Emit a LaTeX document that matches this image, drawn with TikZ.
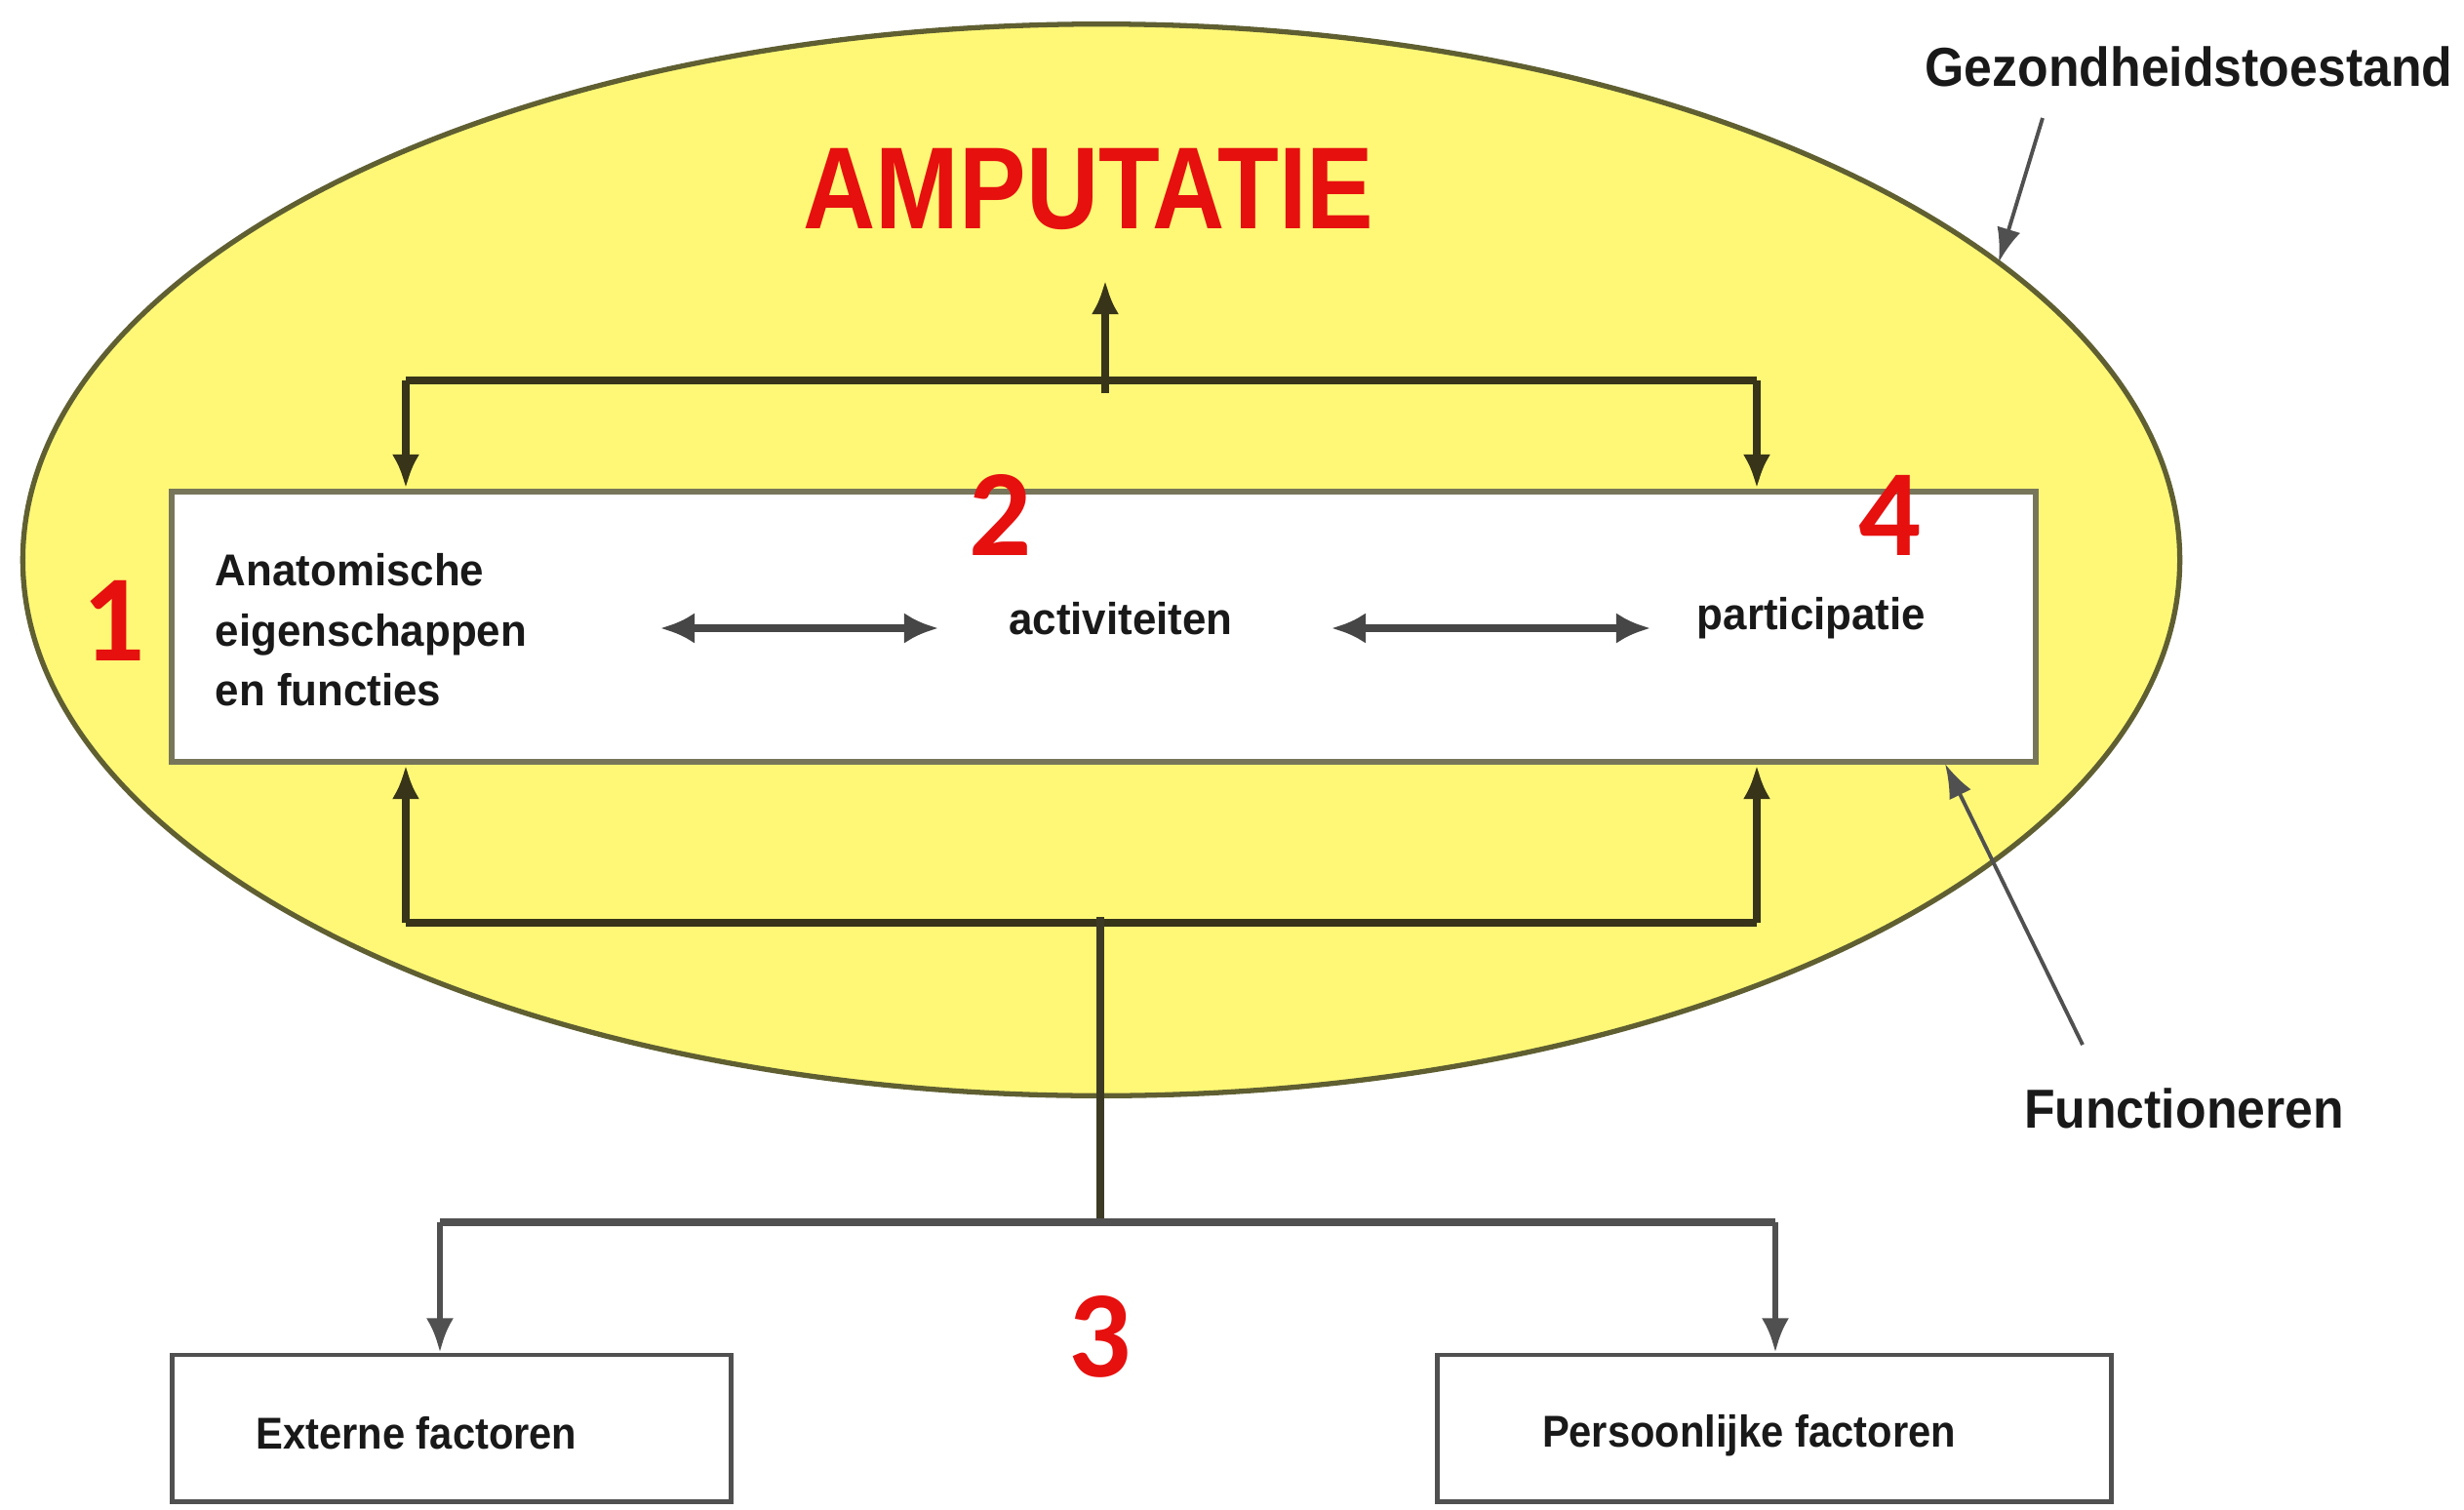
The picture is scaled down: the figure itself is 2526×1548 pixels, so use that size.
\documentclass[tikz,border=0pt]{standalone}
\usepackage{fontspec}
\setmainfont{Liberation Sans}
\newfontfamily\digitfont{Carlito}
\usetikzlibrary{shapes.geometric,arrows.meta}
\definecolor{ellfill}{RGB}{255,248,118}
\definecolor{ellline}{RGB}{95,95,50}
\definecolor{conn}{RGB}{55,52,25}
\definecolor{boxline}{RGB}{120,118,90}
\definecolor{lowline}{RGB}{80,80,80}
\definecolor{redtxt}{RGB}{230,16,14}
\definecolor{dbl}{RGB}{70,70,70}
\tikzset{
  connline/.style={draw=conn, line width=2.1pt},
  connarr/.style={connline, -{Latex[length=10pt,width=8pt]}},
  dblarr/.style={draw=dbl, line width=2.2pt, {Latex[length=10pt,width=9pt]}-{Latex[length=10pt,width=9pt]}},
  callout/.style={draw=lowline, line width=1.1pt, -{Latex[length=10pt,width=7pt]}},
  lowarr/.style={draw=lowline, line width=1.8pt, -{Latex[length=10pt,width=8pt]}},
  lowline/.style={draw=lowline, line width=2.3pt},
  num/.style={text=redtxt, font=\digitfont\bfseries\fontsize{36}{40}\selectfont, inner sep=0pt},
  boxtxt/.style={font=\bfseries\fontsize{13}{17.5}\selectfont, inner sep=0pt, text=black!90, xscale=0.96},
  labtxt/.style={font=\bfseries\fontsize{16}{19}\selectfont, inner sep=0pt, xscale=0.92, text=black!90},
  lowbox/.style={draw=lowline, line width=1.4pt, fill=white, inner sep=0pt}
}
\begin{document}
\begin{tikzpicture}[x=0.01cm, y=-0.01cm]
\useasboundingbox (0,0) rectangle (2526,1548);
\fill[white] (0,0) rectangle (2526,1548);
% ellipse
\node[ellipse, draw=ellline, line width=1.5pt, fill=ellfill, minimum width=22.1cm, minimum height=10.98cm, inner sep=0pt] (ell) at (1129,574) {};
% title
\node[text=redtxt, font=\bfseries\fontsize{34}{40}\selectfont, xscale=0.86, inner sep=0pt] (amp) at (1116,194) {AMPUTATIE};
% main box
\node[draw=boxline, line width=1.7pt, fill=white, minimum width=19.09cm, minimum height=2.77cm, inner sep=0pt] (fb) at (1131.5,642.5) {};
% texts in box
\node[boxtxt, anchor=west, align=left] (anat) at (220,646) {Anatomische\\eigenschappen\\en functies};
\node[boxtxt] (act) at (1149,634) {activiteiten};
\node[boxtxt] (part) at (1857,634) {participatie};
% double arrows
\coordinate (d1a) at (677,644); \coordinate (d1b) at (962,644);
\coordinate (d2a) at (1365,644); \coordinate (d2b) at (1692,644);
\draw[dblarr] (d1a) -- (d1b);
\draw[dblarr] (d2a) -- (d2b);
% numbers
\node[num] (n1) at (117,636) {1};
\node[num] (n2) at (1026,528) {2};
\node[num] (n4) at (1938,528) {4};
\node[num] (n3) at (1128,1370) {3};
% top bracket
\coordinate (tl) at (416,390); \coordinate (tr) at (1801,390);
\coordinate (tm) at (1133,403); \coordinate (tup) at (1133,287);
\draw[connline] (tl) -- (tr);
\draw[connarr] (tl) -- (tl |- fb.north);
\draw[connarr] (tr) -- (tr |- fb.north);
\draw[connarr] (tm) -- (tup);
% bottom bracket
\coordinate (bl) at (416,946); \coordinate (br) at (1801,946);
\coordinate (bm) at (1128,940); \coordinate (lm) at (1128,1253);
\draw[connline] (bl) -- (br);
\draw[connarr] (bl) -- (bl |- fb.south);
\draw[connarr] (br) -- (br |- fb.south);
% lower boxes
\node[lowbox, minimum width=5.72cm, minimum height=1.5cm] (ext) at (463,1464) {};
\node[boxtxt, xscale=0.95] (extt) at (427,1469) {Externe factoren};
\node[lowbox, minimum width=6.9cm, minimum height=1.5cm] (pers) at (1819,1464) {};
\node[boxtxt, xscale=0.95] (perst) at (1793,1472) {Persoonlijke factoren};
\coordinate (ll) at (451,1253); \coordinate (lr) at (1820,1253);
\draw[connline, draw=conn!80!lowline] (bm) -- (lm);
\draw[lowline] (ll) -- (lr);
\draw[lowarr] (ll) -- (ll |- ext.north);
\draw[lowarr] (lr) -- (lr |- pers.north);
% callouts
\node[labtxt] (gez) at (2244,68) {Gezondheidstoestand};
\node[labtxt] (fun) at (2239,1136) {Functioneren};
\coordinate (gs) at (2094,121); \coordinate (ge) at (2049,269);
\coordinate (fs) at (2135,1071); \coordinate (fe) at (1994,783);
\draw[callout] (gs) -- (ge);
\draw[callout] (fs) -- (fe);
\end{tikzpicture}
\end{document}
